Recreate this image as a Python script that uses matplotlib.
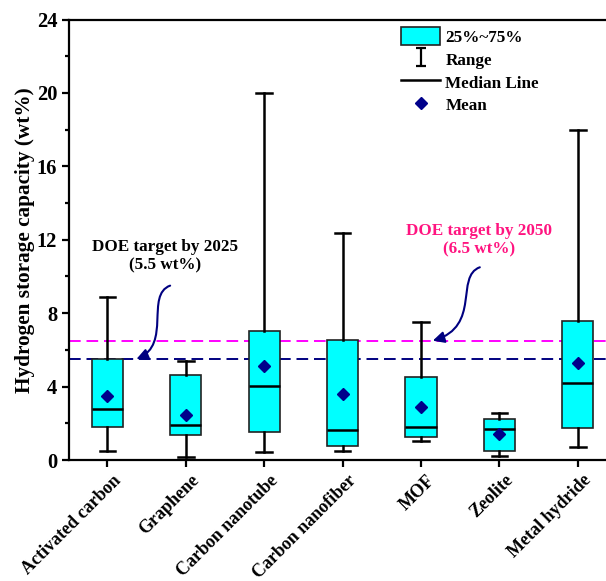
import matplotlib.pyplot as plt
import matplotlib.transforms as mtransforms
from matplotlib.lines import Line2D
from matplotlib.patches import Patch, FancyArrowPatch
from matplotlib.path import Path
from matplotlib.ticker import MultipleLocator

plt.rcParams['font.family'] = ['Liberation Serif', 'DejaVu Serif']
plt.rcParams['font.weight'] = 'bold'

# Hydrogen storage capacity (wt%) per material
materials = ['Activated carbon', 'Graphene', 'Carbon nanotube', 'Carbon nanofiber',
             'MOF', 'Zeolite', 'Metal hydride']
min_vals = [0.5, 0.18, 0.44, 0.5, 1.05, 0.24, 0.73]
q1_vals = [1.8, 1.36, 1.53, 0.78, 1.25, 0.49, 1.73]
med_vals = [2.8, 1.93, 4.05, 1.64, 1.82, 1.71, 4.22]
q3_vals = [5.5, 4.62, 7.02, 6.53, 4.51, 2.22, 7.6]
max_vals = [8.9, 5.42, 20.0, 12.37, 7.53, 2.55, 18.0]
mean_vals = [3.5, 2.45, 5.13, 3.58, 2.87, 1.44, 5.27]

doe_2025 = 5.5
doe_2050 = 6.5

stats = []
for i in range(len(materials)):
    stats.append({'whislo': min_vals[i], 'q1': q1_vals[i], 'med': med_vals[i],
                  'q3': q3_vals[i], 'whishi': max_vals[i], 'mean': mean_vals[i],
                  'fliers': [], 'label': materials[i]})

fig = plt.figure(figsize=(6.06, 5.81), dpi=100)
ax = fig.add_axes([69 / 606, 1 - 460 / 581, 7 * 78.4 / 606, 440.5 / 581])

positions = list(range(1, len(materials) + 1))
ax.bxp(stats, positions=positions, widths=0.4, capwidths=0.2,
       showmeans=True, patch_artist=True,
       boxprops=dict(facecolor='#00FFFF', edgecolor='#222222', linewidth=1.2),
       whiskerprops=dict(color='black', linewidth=1.8),
       capprops=dict(color='black', linewidth=1.8),
       medianprops=dict(color='black', linewidth=1.8),
       meanprops=dict(marker='D', markerfacecolor='#00008B', markeredgecolor='#00008B',
                      markersize=6.5))

ax.axhline(doe_2050, color='#FF00FF', linestyle=(0, (6, 3)), linewidth=1.4, zorder=1)
ax.axhline(doe_2025, color='#000080', linestyle=(0, (6, 3)), linewidth=1.4, zorder=1)

ax.set_xlim(0.51, 7.51)
ax.set_ylim(0, 24)
ax.yaxis.set_major_locator(MultipleLocator(4))
ax.yaxis.set_minor_locator(MultipleLocator(2))
ax.set_xticks(positions)

for s in ['top', 'left', 'bottom', 'right']:
    ax.spines[s].set_linewidth(1.6)
ax.tick_params(axis='both', which='major', direction='out', length=5, width=1.6)
ax.tick_params(axis='y', which='minor', direction='out', length=3, width=1.6)

ax.set_xticklabels(materials, rotation=45, ha='right', rotation_mode='anchor',
                   fontsize=13.0, fontweight='bold')
# nudge the rotated labels to the right (after tick_params, which resets transforms)
shift = mtransforms.ScaledTranslation(5 / 100, 0, fig.dpi_scale_trans)
for lab in ax.get_xticklabels():
    lab.set_transform(lab.get_transform() + shift)
for lab in ax.get_yticklabels():
    lab.set_fontsize(14.8)
    lab.set_fontweight('bold')
ax.set_ylabel('Hydrogen storage capacity (wt%)', fontsize=15.3, fontweight='bold',
              labelpad=1.5)

# annotations
ax.text(1.73, 11.1, 'DOE target by 2025\n(5.5 wt%)', ha='center', va='center',
        fontsize=12.3, fontweight='bold', color='black', linespacing=1.2)
ax.text(5.74, 12.0, 'DOE target by 2050\n(6.5 wt%)', ha='center', va='center',
        fontsize=12.3, fontweight='bold', color='#FF1480', linespacing=1.2)

path1 = Path([(1.80, 9.5), (1.48, 9.0), (1.82, 6.3), (1.37, 5.5)],
             [Path.MOVETO, Path.CURVE4, Path.CURVE4, Path.CURVE4])
ax.add_patch(FancyArrowPatch(path=path1, arrowstyle='-|>', mutation_scale=17,
                             color='#000080', linewidth=1.5, shrinkA=0, shrinkB=0))
path2 = Path([(5.75, 10.5), (5.43, 10.0), (5.77, 7.3), (5.15, 6.5)],
             [Path.MOVETO, Path.CURVE4, Path.CURVE4, Path.CURVE4])
ax.add_patch(FancyArrowPatch(path=path2, arrowstyle='-|>', mutation_scale=17,
                             color='#000080', linewidth=1.5, shrinkA=0, shrinkB=0))

# legend
range_marker = Path([(-0.6, 1), (0.6, 1), (0, 1), (0, -1), (-0.6, -1), (0.6, -1)],
                    [Path.MOVETO, Path.LINETO, Path.MOVETO, Path.LINETO,
                     Path.MOVETO, Path.LINETO])
handles = [
    Patch(facecolor='#00FFFF', edgecolor='#222222', linewidth=1.2),
    Line2D([], [], linestyle='none', marker=range_marker, markersize=13,
           color='black', markeredgewidth=1.6),
    Line2D([], [], color='black', linewidth=1.8),
    Line2D([], [], linestyle='none', marker='D', color='#00008B', markersize=6.5),
]
labels = ['25%~75%', 'Range', 'Median Line', 'Mean']
ax.legend(handles, labels, loc='upper left', bbox_to_anchor=(401 / 606, 1 - 27 / 581),
          bbox_transform=fig.transFigure, frameon=False, fontsize=12.3,
          handlelength=2.3, handleheight=1.25, handletextpad=0.3,
          labelspacing=0.24, borderpad=0, borderaxespad=0)

fig.savefig('out.png', dpi=100)
